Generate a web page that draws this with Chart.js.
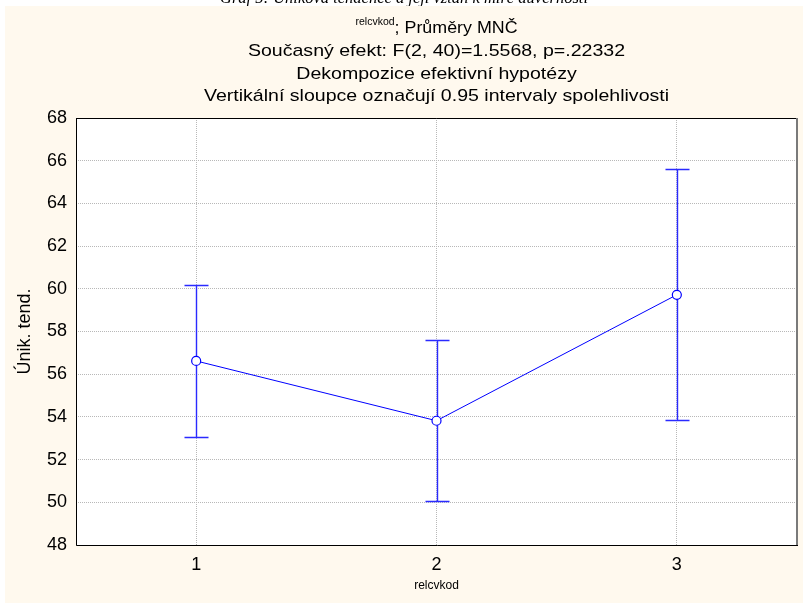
<!DOCTYPE html>
<html>
<head>
<meta charset="utf-8">
<script src="https://cdn.jsdelivr.net/npm/chart.js@4"></script>
<style>
  html, body { margin: 0; padding: 0; background: #ffffff; }
  canvas { display: block; }
</style>
</head>
<body>
<canvas id="chart" width="803" height="603"></canvas>
<script>
// Groups of relcvkod and least-squares means with 0.95 confidence limits
const groups  = [1, 2, 3];
const means   = [56.62, 53.82, 59.72];
const ciLower = [53.05, 50.05, 53.85];
const ciUpper = [60.2, 57.6, 65.6];
const yTicks  = [48, 50, 52, 54, 56, 58, 60, 62, 64, 66, 68];

const figureCaption = 'Graf 5: Úniková tendence a její vztah k míře důvěrnosti';
const titleSup = 'relcvkod';
const titleMain = '; Průměry MNČ';
const titleLines = [
  'Současný efekt: F(2, 40)=1.5568, p=.22332',
  'Dekompozice efektivní hypotézy',
  'Vertikální sloupce označují 0.95 intervaly spolehlivosti'
];
const xTitle = 'relcvkod';
const yTitle = 'Únik. tend.';

const FONT = '"Liberation Sans", Arial, sans-serif';
const BLUE = '#0000ff';
const BAR_BLUE = '#2a2aff';

// Header text is set slightly wide: 17px glyphs stretched horizontally
const HEADER_SIZE = 17;
const HEADER_STRETCH = 1.15;

function wideText(ctx, text, cx, cy) {
  ctx.save();
  ctx.translate(cx, cy);
  ctx.scale(HEADER_STRETCH, 1);
  ctx.fillText(text, 0, 0);
  ctx.restore();
}

// Background, caption and multi-line header
const backdrop = {
  id: 'backdrop',
  beforeDraw(chart) {
    const { ctx, chartArea } = chart;
    ctx.save();
    ctx.fillStyle = '#ffffff';
    ctx.fillRect(0, 0, chart.width, chart.height);

    // caption of the figure (runs off the top edge)
    ctx.fillStyle = '#000000';
    ctx.font = 'italic 16.5px "Liberation Serif", "Times New Roman", serif';
    ctx.textAlign = 'center';
    ctx.textBaseline = 'alphabetic';
    ctx.fillText(figureCaption, 404, 3);

    ctx.fillStyle = '#fff9ee';
    ctx.fillRect(5, 6, chart.width - 5, chart.height - 6);
    // plot area
    ctx.fillStyle = '#ffffff';
    ctx.fillRect(chartArea.left, chartArea.top, chartArea.right - chartArea.left, chartArea.bottom - chartArea.top);

    const cx = (chartArea.left + chartArea.right) / 2;
    ctx.fillStyle = '#000000';
    ctx.textBaseline = 'middle';
    // first line: superscript variable name + text
    ctx.font = '10.5px ' + FONT;
    const wSup = ctx.measureText(titleSup).width;
    ctx.font = HEADER_SIZE + 'px ' + FONT;
    const wMain = ctx.measureText(titleMain).width * 1.05;
    const x0 = cx - (wSup + wMain) / 2;
    ctx.textAlign = 'left';
    ctx.font = '10.5px ' + FONT;
    ctx.fillText(titleSup, x0, 22);
    ctx.font = HEADER_SIZE + 'px ' + FONT;
    ctx.save();
    ctx.translate(x0 + wSup, 28);
    ctx.scale(1.05, 1);
    ctx.fillText(titleMain, 0, 0);
    ctx.restore();

    ctx.textAlign = 'center';
    const ys = [51, 74, 96];
    titleLines.forEach((t, i) => wideText(ctx, t, cx, ys[i]));
    ctx.restore();
  }
};

// Vertical confidence-interval bars with caps
const errorBars = {
  id: 'errorBars',
  beforeDatasetsDraw(chart) {
    const { ctx, scales: { x, y } } = chart;
    ctx.save();
    ctx.strokeStyle = BAR_BLUE;
    ctx.lineWidth = 1.4;
    groups.forEach((g, i) => {
      const px = Math.round(x.getPixelForValue(g)) + 0.5;
      const top = Math.round(y.getPixelForValue(ciUpper[i])) + 0.5;
      const bot = Math.round(y.getPixelForValue(ciLower[i])) + 0.5;
      ctx.beginPath();
      ctx.moveTo(px, top); ctx.lineTo(px, bot);
      ctx.moveTo(px - 12, top); ctx.lineTo(px + 12, top);
      ctx.moveTo(px - 12, bot); ctx.lineTo(px + 12, bot);
      ctx.stroke();
    });
    ctx.restore();
  }
};

// Frame round the plot area
const frame = {
  id: 'frame',
  afterDraw(chart) {
    const { ctx, chartArea: a } = chart;
    ctx.save();
    ctx.lineWidth = 1;
    ctx.strokeStyle = '#000000';
    ctx.beginPath();
    ctx.moveTo(a.left + 0.5, a.top + 0.5);
    ctx.lineTo(a.right, a.top + 0.5);
    ctx.moveTo(a.left + 0.5, a.top);
    ctx.lineTo(a.left + 0.5, a.bottom + 0.5);
    ctx.lineTo(a.right + 1, a.bottom + 0.5);
    ctx.stroke();
    ctx.strokeStyle = '#7a7a7a';
    ctx.lineWidth = 2;
    ctx.beginPath();
    ctx.moveTo(a.right, a.top);
    ctx.lineTo(a.right, a.bottom);
    ctx.stroke();
    ctx.restore();
  }
};

new Chart(document.getElementById('chart'), {
  type: 'line',
  data: {
    datasets: [{
      data: groups.map((g, i) => ({ x: g, y: means[i] })),
      borderColor: BLUE,
      borderWidth: 1,
      backgroundColor: '#ffffff',
      pointRadius: 4.5,
      pointBorderWidth: 1.2,
      pointBorderColor: BLUE,
      pointBackgroundColor: '#ffffff',
      tension: 0
    }]
  },
  options: {
    responsive: false,
    animation: false,
    devicePixelRatio: 1,
    layout: { padding: { left: 14, top: 118, right: 6, bottom: 8 } },
    plugins: {
      legend: { display: false },
      title: { display: false },
      tooltip: { enabled: false }
    },
    scales: {
      x: {
        type: 'linear',
        min: 0.5,
        max: 3.5,
        afterBuildTicks: s => { s.ticks = groups.map(v => ({ value: v })); },
        afterFit: s => { s.height = 50; },
        ticks: { color: '#000', font: { family: FONT, size: 18 }, padding: 9 },
        grid: { color: '#b8b8b8', lineWidth: 1, drawTicks: false },
        border: { display: false, dash: [1, 1] },
        title: { display: true, text: xTitle, color: '#000', font: { family: FONT, size: 12 }, padding: { top: 0, bottom: 2 } }
      },
      y: {
        min: 48,
        max: 68,
        afterBuildTicks: s => { s.ticks = yTicks.map(v => ({ value: v })); },
        afterFit: s => { s.width = 62; },
        ticks: { color: '#000', font: { family: FONT, size: 18 }, padding: 9 },
        grid: { color: '#b8b8b8', lineWidth: 1, drawTicks: false },
        border: { display: false, dash: [1, 1] },
        title: { display: true, text: yTitle, color: '#000', font: { family: FONT, size: 18 }, padding: 0 }
      }
    }
  },
  plugins: [backdrop, errorBars, frame]
});
</script>
</body>
</html>
